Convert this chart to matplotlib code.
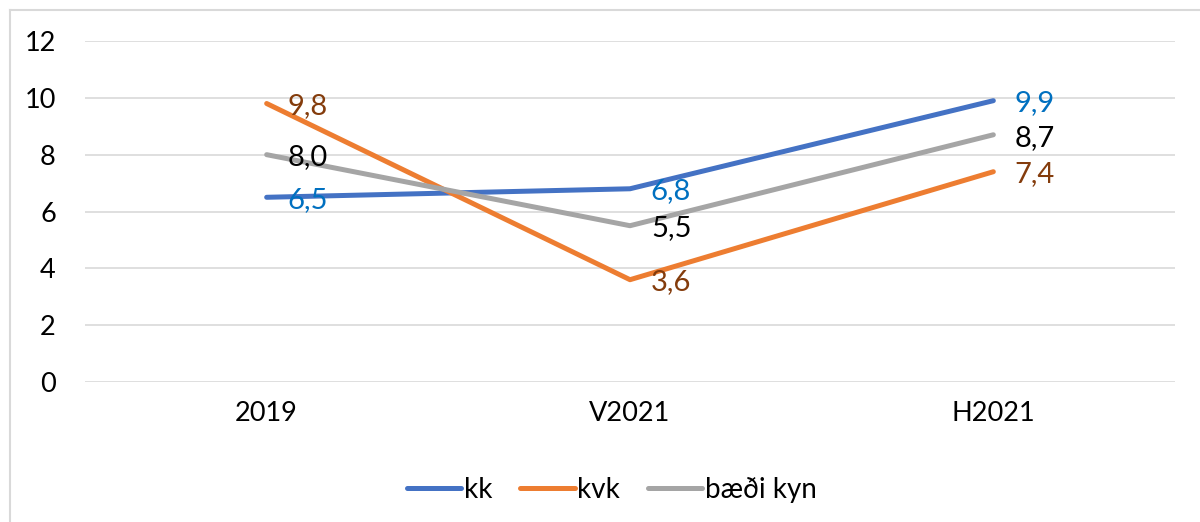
import matplotlib.pyplot as plt
from matplotlib.lines import Line2D

categories = ['2019', 'V2021', 'H2021']
kk = [6.5, 6.8, 9.9]
kvk = [9.8, 3.6, 7.4]
baedi = [8.0, 5.5, 8.7]
labels_kk = ['6,5', '6,8', '9,9']
labels_kvk = ['9,8', '3,6', '7,4']
labels_baedi = ['8,0', '5,5', '8,7']

plt.rcParams['font.family'] = ['Lato', 'DejaVu Sans']

fig = plt.figure(figsize=(12, 5.22), dpi=100)
ax = fig.add_axes([85 / 1200, 1 - 382 / 522, 1090 / 1200, 341 / 522])

x = range(len(categories))
series = [
    (kk, labels_kk, 'kk', '#4472C4', '#0070C0'),
    (kvk, labels_kvk, 'kvk', '#ED7D31', '#843C0C'),
    (baedi, labels_baedi, 'bæði kyn', '#A5A5A5', 'black'),
]
for vals, labs, name, col, lcol in series:
    ax.plot(x, vals, color=col, lw=3.6, solid_capstyle='round', label=name, zorder=3)
    for xi, v, t in zip(x, vals, labs):
        ax.annotate(t, (xi, v), xytext=(15, -2), textcoords='offset points',
                    ha='left', va='center', fontsize=21, color=lcol, zorder=4)

ax.set_xlim(-0.5, 2.5)
ax.set_ylim(0, 12)
ax.set_yticks(range(0, 13, 2))
ax.set_xticks(list(x))
ax.set_xticklabels(categories)
ax.tick_params(length=0, labelsize=19.5, pad=14)
ax.tick_params(axis='y', pad=21)
ax.grid(axis='y', color='#D9D9D9', lw=1.2)
ax.set_axisbelow(True)
for s in ax.spines.values():
    s.set_visible(False)

fig.legend(loc='center', bbox_to_anchor=(0.51, 1 - 490 / 522), ncol=3, frameon=False,
           fontsize=20, handlelength=1.95, handletextpad=0.1, columnspacing=1.0)

fig.add_artist(Line2D([10 / 1200, 10 / 1200], [0, 1 - 10 / 522], color='#D9D9D9', lw=1.5))
fig.add_artist(Line2D([10 / 1200, 1], [1 - 10 / 522, 1 - 10 / 522], color='#D9D9D9', lw=1.5))

fig.savefig('out.png', dpi=100)
